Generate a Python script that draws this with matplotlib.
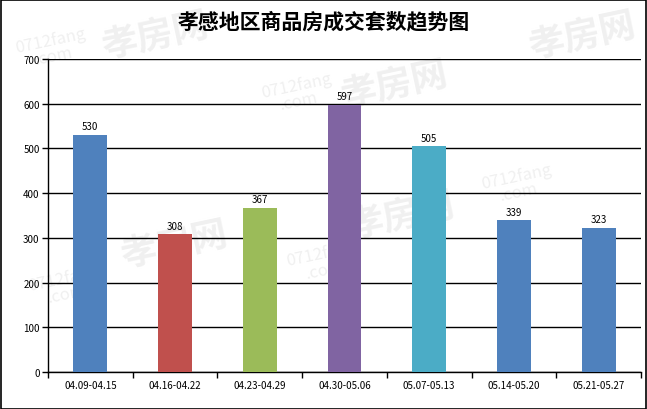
import matplotlib.pyplot as plt
import numpy as np

plt.rcParams['font.family'] = ['Noto Sans CJK SC', 'DejaVu Sans']

# data
weeks = ['04.09-04.15', '04.16-04.22', '04.23-04.29', '04.30-05.06',
         '05.07-05.13', '05.14-05.20', '05.21-05.27']
deals = [530, 308, 367, 597, 505, 339, 323]
colors = ['#4F81BD', '#C0504D', '#9BBB59', '#8064A2', '#4BACC6', '#4F81BD', '#4F81BD']

fig = plt.figure(figsize=(6.47, 4.10), dpi=100)
ax = fig.add_axes([48/647, 37/410, 593/647, 313/410])

# faint watermarks in the background
wm = [(0.24, 0.91), (0.61, 0.79), (0.90, 0.91), (0.62, 0.47), (0.27, 0.40)]
for x, y in wm:
    fig.text(x, y, '孝房网', fontsize=26, color='#f0f0f0', rotation=12,
             ha='center', va='center', fontweight='bold', zorder=-1)
wm2 = [(0.08, 0.88), (0.46, 0.77), (0.80, 0.55), (0.50, 0.36), (0.10, 0.30)]
for x, y in wm2:
    fig.text(x, y, '0712fang\n.com', fontsize=12, color='#f0f0f0', rotation=12,
             ha='center', va='center', zorder=-1, linespacing=0.9)

x = np.arange(len(weeks))
ax.bar(x, deals, width=0.4, color=colors, zorder=3)
for xi, v in zip(x, deals):
    ax.text(xi, v + 8, str(v), ha='center', va='bottom', fontsize=7, zorder=4)

ax.set_xlim(-0.5, len(weeks) - 0.5)
ax.set_ylim(0, 700)
ax.set_yticks(range(0, 701, 100))
ax.tick_params(axis='y', labelsize=7, length=4, width=1, direction='out', pad=2)
ax.set_xticks(x)
ax.set_xticklabels(weeks)
ax.set_xticks(np.arange(-0.5, len(weeks)), minor=True)
ax.tick_params(axis='x', which='major', length=0, labelsize=7, pad=6)
ax.tick_params(axis='x', which='minor', length=4, width=1, direction='out')
ax.yaxis.grid(True, color='black', linewidth=1)
ax.set_axisbelow(True)
for s in ['top', 'right']:
    ax.spines[s].set_visible(False)
ax.spines['left'].set_linewidth(1)
ax.spines['bottom'].set_linewidth(1)
ax.patch.set_alpha(0)

fig.text(0.5, 1 - 22/410, '孝感地区商品房成交套数趋势图', ha='center', va='center',
         fontsize=15, fontweight='bold')

# outer border
fig.patches.append(plt.Rectangle((0.001, 0.001), 0.997, 0.996, transform=fig.transFigure,
                                 fill=False, edgecolor='black', linewidth=1.2))

fig.savefig('out.png', dpi=100)
